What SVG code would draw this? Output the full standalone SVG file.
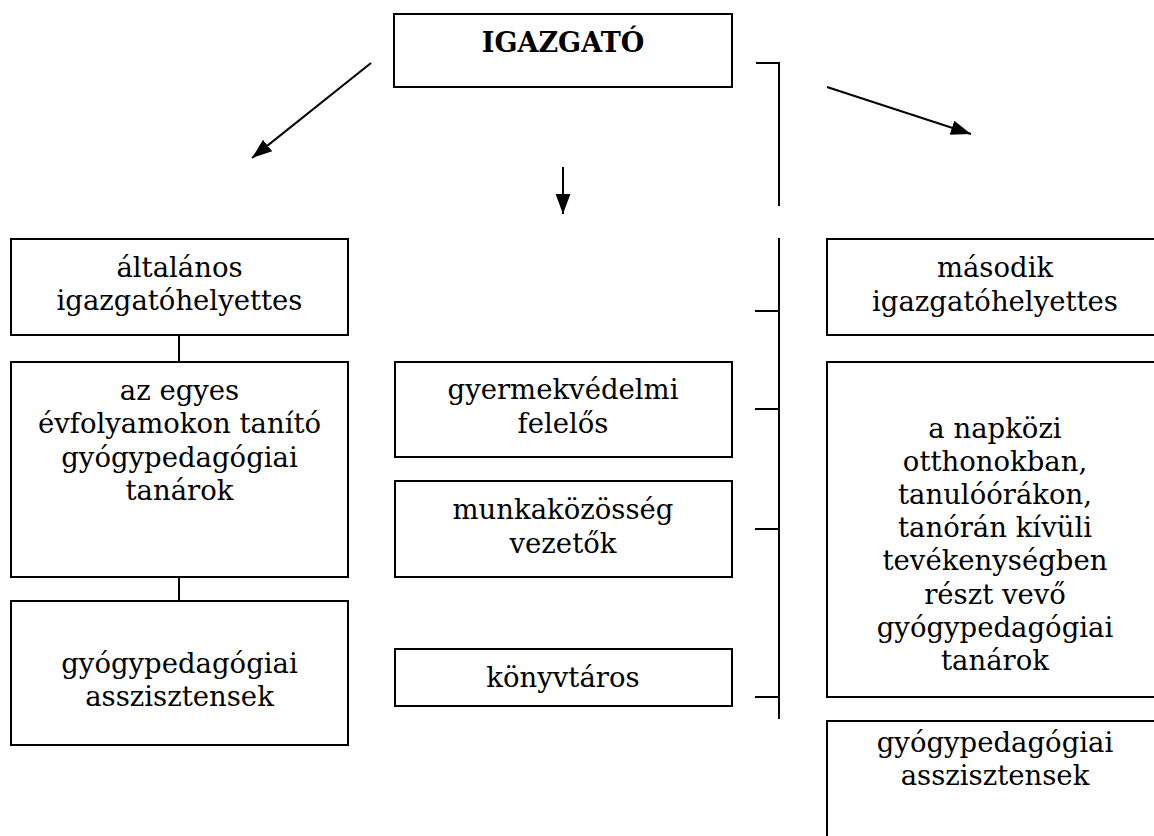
<svg xmlns="http://www.w3.org/2000/svg" width="1154" height="836" viewBox="0 0 1154 836">
<style>
.box{fill:#fff;stroke:#000;stroke-width:2}
.ln{fill:none;stroke:#000;stroke-width:2}
text{font-family:"DejaVu Serif","Liberation Serif",serif;font-size:27.5px;fill:#000;text-anchor:middle}
.b{font-weight:bold;font-size:27px}
</style>
<defs>
<marker id="ahb" viewBox="0 0 10 10" refX="10" refY="5" markerWidth="20" markerHeight="20" markerUnits="userSpaceOnUse" orient="auto">
<path d="M0,1.3 L10,5 L0,8.7 z" fill="#000"/>
</marker>
</defs>
<rect width="1154" height="836" fill="#fff"/>
<g id="connectors">
<line class="ln" x1="371" y1="63" x2="252" y2="158" marker-end="url(#ahb)"/>
<line class="ln" x1="563" y1="167" x2="563" y2="214" marker-end="url(#ahb)"/>
<line class="ln" x1="827" y1="87" x2="971" y2="134" marker-end="url(#ahb)"/>
<polyline class="ln" points="756,63 779,63 779,206"/>
<line class="ln" x1="779" y1="238" x2="779" y2="719"/>
<line class="ln" x1="755" y1="311" x2="779" y2="311"/>
<line class="ln" x1="755" y1="409" x2="779" y2="409"/>
<line class="ln" x1="755" y1="529" x2="779" y2="529"/>
<line class="ln" x1="755" y1="697" x2="779" y2="697"/>
<line class="ln" x1="179" y1="314" x2="179" y2="362"/>
<line class="ln" x1="179" y1="577" x2="179" y2="601"/>
</g>
<g id="igazgato">
<rect class="box" x="394" y="14" width="338" height="73"/>
<text class="b" x="563" y="52">IGAZGATÓ</text>
</g>
<g id="altalanos">
<rect class="box" x="11" y="239" width="337" height="96"/>
<text x="179.5" y="277">általános</text>
<text x="179.5" y="310">igazgatóhelyettes</text>
</g>
<g id="evfolyam-tanarok">
<rect class="box" x="11" y="362" width="337" height="215"/>
<text x="179.5" y="400">az egyes</text>
<text x="179.5" y="433">évfolyamokon tanító</text>
<text x="179.5" y="467">gyógypedagógiai</text>
<text x="179.5" y="500">tanárok</text>
</g>
<g id="asszisztensek-bal">
<rect class="box" x="11" y="601" width="337" height="144"/>
<text x="179.5" y="673">gyógypedagógiai</text>
<text x="179.5" y="706">asszisztensek</text>
</g>
<g id="gyermekvedelmi">
<rect class="box" x="395" y="362" width="337" height="95"/>
<text x="563" y="399">gyermekvédelmi</text>
<text x="563" y="433">felelős</text>
</g>
<g id="munkakozosseg">
<rect class="box" x="395" y="481" width="337" height="96"/>
<text x="563" y="519">munkaközösség</text>
<text x="563" y="553">vezetők</text>
</g>
<g id="konyvtaros">
<rect class="box" x="395" y="649" width="337" height="57"/>
<text x="563" y="687">könyvtáros</text>
</g>
<g id="masodik">
<rect class="box" x="827" y="239" width="340" height="96"/>
<text x="995" y="277">második</text>
<text x="995" y="311">igazgatóhelyettes</text>
</g>
<g id="napkozi-tanarok">
<rect class="box" x="827" y="362" width="340" height="335"/>
<text x="995" y="437.5">a napközi</text>
<text x="995" y="470.7">otthonokban,</text>
<text x="995" y="503.9">tanulóórákon,</text>
<text x="995" y="537.1">tanórán kívüli</text>
<text x="995" y="570.3">tevékenységben</text>
<text x="995" y="603.5">részt vevő</text>
<text x="995" y="636.7">gyógypedagógiai</text>
<text x="995" y="669.9">tanárok</text>
</g>
<g id="asszisztensek-jobb">
<rect class="box" x="827" y="721" width="340" height="130"/>
<text x="995" y="752">gyógypedagógiai</text>
<text x="995" y="785">asszisztensek</text>
</g>
</svg>
